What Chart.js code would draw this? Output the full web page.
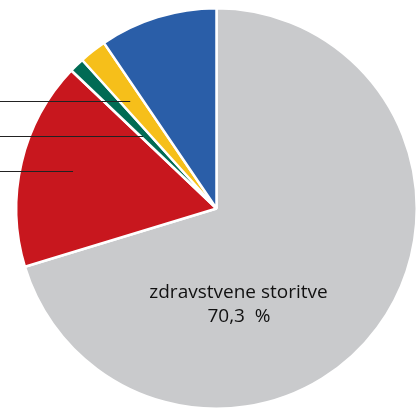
<!DOCTYPE html>
<html>
<head>
<meta charset="utf-8">
<script src="https://cdn.jsdelivr.net/npm/chart.js@4/dist/chart.umd.min.js"></script>
<style>
  html, body { margin: 0; padding: 0; background: #fff; overflow: hidden; }
  #wrap { position: absolute; left: 0; top: 7px; width: 433px; height: 403px; }
</style>
</head>
<body>
<div id="wrap"><canvas id="c"></canvas></div>
<script>
// Shares of spending by category (percent)
const categories = ['zdravstvene storitve', 'ostalo 1', 'ostalo 2', 'ostalo 3', 'ostalo 4'];
const shares = [70.3, 16.8, 1.2, 2.2, 9.5];
const colors = ['#c9cacc', '#c8171e', '#006b54', '#f6bf1a', '#2a5ea8'];
const valueLabels = ['70,3  %'];

// Leader lines: slice index, position along the slice's sweep (t) and depth (fraction of radius)
const leaders = [
  { slice: 3, t: 0.44, depth: 0.69 },
  { slice: 2, t: 0.25, depth: 0.515 },
  { slice: 1, t: 0.52, depth: 0.74 }
];

const pieDecor = {
  id: 'pieDecor',
  afterDatasetsDraw(chart) {
    const ctx = chart.ctx;
    const arcs = chart.getDatasetMeta(0).data;
    ctx.save();
    ctx.strokeStyle = '#222';
    ctx.lineWidth = 1;
    leaders.forEach(l => {
      const a = arcs[l.slice];
      const ang = a.startAngle + (a.endAngle - a.startAngle) * l.t;
      const r = a.outerRadius * l.depth;
      const x = a.x + Math.cos(ang) * r;
      const y = Math.round(a.y + Math.sin(ang) * r) + 0.5;
      ctx.beginPath();
      ctx.moveTo(-5, y);
      ctx.lineTo(x, y);
      ctx.stroke();
    });
    // Label of the largest slice
    const g = arcs[0];
    ctx.fillStyle = '#111';
    ctx.font = '19px "Open Sans", sans-serif';
    ctx.textAlign = 'center';
    ctx.textBaseline = 'alphabetic';
    ctx.fillText(categories[0], g.x + 22, g.y + 89.5);
    ctx.fillText(valueLabels[0], g.x + 22.5, g.y + 113.5);
    ctx.restore();
  }
};

new Chart(document.getElementById('c'), {
  type: 'pie',
  data: {
    labels: categories,
    datasets: [{
      data: shares,
      backgroundColor: colors,
      borderColor: '#ffffff',
      borderWidth: 2.5
    }]
  },
  options: {
    responsive: true,
    maintainAspectRatio: false,
    animation: false,
    layout: { padding: 0 },
    plugins: {
      legend: { display: false },
      tooltip: { enabled: false }
    }
  },
  plugins: [pieDecor]
});
</script>
</body>
</html>
